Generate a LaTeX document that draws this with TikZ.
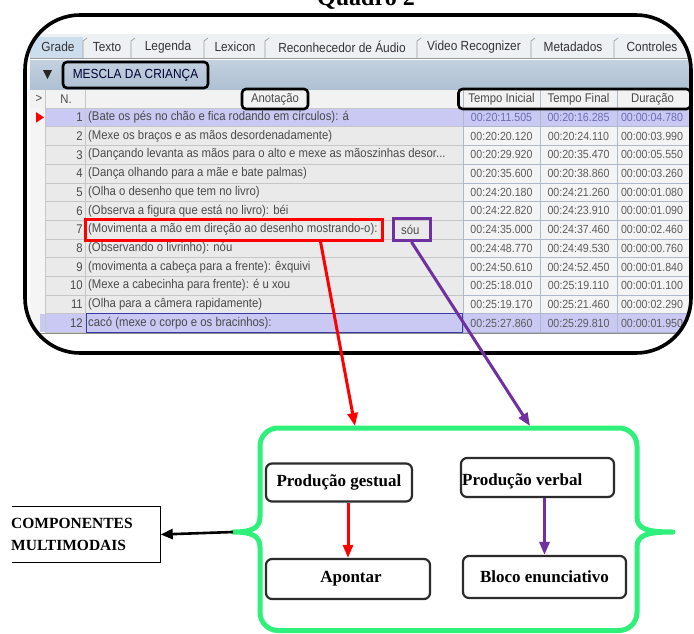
\documentclass[tikz,border=0pt]{standalone}
\usepackage{fontspec}
\setmainfont{Liberation Serif}
\newfontfamily\ui{Liberation Sans}
\newfontfamily\uin[FakeStretch=0.9]{Liberation Sans}
\usetikzlibrary{arrows.meta,calc}
\definecolor{txtgrey}{HTML}{4A4A4A}
\definecolor{timegrey}{HTML}{5C5C5C}
\definecolor{timeblue}{HTML}{6C6CB4}
\definecolor{rowbg}{HTML}{EAEAEA}
\definecolor{timebg}{HTML}{F4F4F4}
\definecolor{gridl}{HTML}{C6C6C6}
\definecolor{gridb}{HTML}{AEB9CE}
\definecolor{lav}{HTML}{C9C9F3}
\definecolor{tabbg}{HTML}{EEF1F4}
\definecolor{tabsel}{HTML}{CCDDEE}
\definecolor{tiertop}{HTML}{C3D1E0}
\definecolor{tierbot}{HTML}{AEC0D3}
\definecolor{brgreen}{HTML}{2EF07A}
\definecolor{pur}{HTML}{7030A0}
\definecolor{boxgrey}{HTML}{2B2B2B}
\definecolor{cellblue}{HTML}{3A3AA8}
\definecolor{sepgrey}{HTML}{9A9A9A}
\begin{document}
\begin{tikzpicture}[x=1pt,y=-1pt,
  uitxt/.style={font=\uin\fontsize{12.6}{14}\selectfont, text=txtgrey, inner sep=0pt},
  tabtxt/.style={font=\uin\fontsize{13.2}{14}\selectfont, text=black!80, inner sep=0pt},
  timetxt/.style={font=\uin\fontsize{11.8}{14}\selectfont, inner sep=0pt},
  hl/.style={draw=black, line width=2.6pt, rounded corners=4pt},
  gbox/.style={draw=boxgrey, line width=2.2pt, rounded corners=6pt, fill=white, inner sep=2pt, font=\bfseries\fontsize{17}{20}\selectfont},
  gline/.style={draw=brgreen, line width=5pt, line join=round},
  redarr/.style={draw=red, line width=3pt, -{Triangle[length=13pt,width=10pt]}},
  purarr/.style={draw=pur, line width=3pt, -{Triangle[length=13pt,width=10pt]}},
  blkarr/.style={draw=black, line width=2.6pt, -{Triangle[length=12pt,width=10pt]}},
  frame/.style={draw=black, line width=3.6pt, rounded corners=55pt}]
\useasboundingbox (0,0) rectangle (694,633);

% title (cropped at top, as in the original)
\node[font=\bfseries\fontsize{24}{26}\selectfont, anchor=base, inner sep=0pt] (title) at (366,5) {Quadro 2};

% ---------- table screenshot ----------
\begin{scope}
\clip[rounded corners=55pt] (25,15) rectangle (691,353);
% tab bar
\fill[tabbg] (30,34) rectangle (692,59);
\fill[tabsel] (30,37) rectangle (83,59);
\draw[sepgrey, line width=0.6pt] (30,58.5) -- (692,58.5);
\foreach \sx in {83,131,204,265,417,531,614,688}{
  \draw[sepgrey, line width=0.7pt] (\sx,58) -- (\sx,41) -- (\sx+4,38);
}
\node[tabtxt] (tGrade) at (58,47) {Grade};
\node[tabtxt] (tTexto) at (107,47) {Texto};
\node[tabtxt] (tLeg) at (168,47) {Legenda};
\node[tabtxt] (tLex) at (235,47) {Lexicon};
\node[tabtxt] (tRec) at (342,47) {Reconhecedor de Áudio};
\node[tabtxt] (tVid) at (474,47) {Video Recognizer};
\node[tabtxt] (tMet) at (573,47) {Metadados};
\node[tabtxt] (tCon) at (652,47) {Controles};
% tier bar
\shade[top color=tiertop, bottom color=tierbot] (30,60) rectangle (692,89);
\fill[black!85] (43,70) -- (52,70) -- (47.5,79) -- cycle;
% header row
\fill[black!5] (30,90) rectangle (692,108);
% rows background
\fill[black!4] (30,108) rectangle (45,332.4);
\fill[rowbg] (45,108) rectangle (463,332.4);
\fill[timebg] (463,108) rectangle (692,332.4);
\fill[lav] (45,108) rectangle (692,126.7);
\fill[lav] (40,313.7) rectangle (692,332.4);
\fill[red] (36,112) -- (44,117.35) -- (36,122.7) -- cycle;
% grid
\foreach \k in {0,...,12}{
  \pgfmathsetmacro\gy{108+\k*18.7}
  \draw[gridl, line width=0.6pt] (45,\gy) -- (463,\gy);
  \draw[gridb, line width=0.6pt] (463,\gy) -- (692,\gy);
}
\foreach \vx in {45,85}{\draw[gridl, line width=0.6pt] (\vx,90) -- (\vx,332.4);}
\foreach \vx in {463,540,617}{\draw[gridb, line width=0.6pt] (\vx,90) -- (\vx,332.4);}
\draw[black!45, line width=0.8pt] (40,333.5) -- (692,333.5);
\draw[cellblue, line width=1pt] (86,313.9) rectangle (462,332.2);
% header texts
\node[uitxt] (hgt) at (39,99) {>};
\node[uitxt] (hN) at (66,99) {N.};
\node[uitxt] (hTI) at (501.5,99) {Tempo Inicial};
\node[uitxt] (hTF) at (578.5,99) {Tempo Final};
\node[uitxt] (hDu) at (652.5,99) {Duração};
% rows
\foreach \i/\ann/\ta/\tb/\tc/\tcol in {
 1/{(Bate os pés no chão e fica rodando em círculos): á}/00:20:11.505/00:20:16.285/00:00:04.780/timeblue,
 2/{(Mexe os braços e as mãos desordenadamente)}/00:20:20.120/00:20:24.110/00:00:03.990/timegrey,
 3/{(Dançando levanta as mãos para o alto e mexe as mãoszinhas desor...}/00:20:29.920/00:20:35.470/00:00:05.550/timegrey,
 4/{(Dança olhando para a mãe e bate palmas)}/00:20:35.600/00:20:38.860/00:00:03.260/timegrey,
 5/{(Olha o desenho que tem no livro)}/00:24:20.180/00:24:21.260/00:00:01.080/timegrey,
 6/{(Observa a figura que está no livro): béi}/00:24:22.820/00:24:23.910/00:00:01.090/timegrey,
 7/{(Movimenta a mão em direção ao desenho mostrando-o):}/00:24:35.000/00:24:37.460/00:00:02.460/timegrey,
 8/{(Observando o livrinho): nóu}/00:24:48.770/00:24:49.530/00:00:00.760/timegrey,
 9/{(movimenta a cabeça para a frente): êxquivi}/00:24:50.610/00:24:52.450/00:00:01.840/timegrey,
 10/{(Mexe a cabecinha para frente): é u xou}/00:25:18.010/00:25:19.110/00:00:01.100/timegrey,
 11/{(Olha para a câmera rapidamente)}/00:25:19.170/00:25:21.460/00:00:02.290/timegrey,
 12/{cacó (mexe o corpo e os bracinhos):}/00:25:27.860/00:25:29.810/00:00:01.950/timegrey}
{
  \pgfmathsetmacro\yc{108+(\i-1)*18.7+9.35}
  \node[uitxt, anchor=east] (n\i) at (83,\yc) {\i};
  \node[uitxt, anchor=west] (a\i) at (88,\yc) {\ann};
  \node[timetxt, text=\tcol] (ti\i) at (501.5,\yc) {\ta};
  \node[timetxt, text=\tcol] (tf\i) at (578.5,\yc) {\tb};
  \node[timetxt, text=\tcol] (du\i) at (652,\yc) {\tc};
}
\node[uitxt, anchor=west] (sou) at (401,229.5) {sóu};
% black highlight boxes
\node[hl, font=\uin\fontsize{13.2}{14}\selectfont, text=black!80!blue, minimum width=145pt, minimum height=26pt, inner sep=0pt] (tier) at (135.5,75) {MESCLA DA CRIANÇA};
\node[hl, uitxt, minimum width=66pt, minimum height=20pt] (anot) at (275,99) {Anotação};
\node[hl, minimum width=232pt, minimum height=20pt, inner sep=0pt] (thead) at (574.5,99) {};
% red and purple boxes
\node[draw=red, line width=3pt, minimum width=297pt, minimum height=21pt, inner sep=0pt] (redbox) at (233.5,229.5) {};
\node[draw=pur, line width=3pt, minimum width=37pt, minimum height=22pt, inner sep=0pt] (purbox) at (411.5,229.5) {};
\end{scope}
% outer frame
\draw[frame] (25,15) rectangle (691,353);

% ---------- lower diagram ----------
\coordinate (gL) at (233,532);
\coordinate (gR) at (673,532);
\coordinate (gT1) at (355,426);
\coordinate (gT2) at (530,426);
\draw[gline, rounded corners=18pt] (260,517) -- (260,428) -- (637,428) -- (637,517);
\draw[gline, rounded corners=18pt] (260,547) -- (260,630.5) -- (637,630.5) -- (637,547);
\draw[gline] (260,517) .. controls (260,529) and (250,532) .. (gL) .. controls (250,532) and (260,535) .. (260,547);
\draw[gline] (637,517) .. controls (637,529) and (647,532) .. (gR) .. controls (647,532) and (637,535) .. (637,547);

\node[gbox, minimum width=146pt, minimum height=38pt] (gest) at (339,482.5) {Produção gestual};
\node[gbox, minimum width=153pt, minimum height=39pt] (verb) at (537.5,477.5) {};
\node[font=\bfseries\fontsize{17}{20}\selectfont, anchor=west, inner sep=0pt] (verbt) at (462,481) {Produção verbal};
\node[gbox, minimum width=164pt, minimum height=40pt] (apon) at (348,579) {\hspace*{6pt}Apontar};
\node[gbox, minimum width=163pt, minimum height=42pt] (bloc) at (544.5,577) {Bloco enunciativo};

\draw[redarr] (gest.south -| apon.north) -- (apon.north);
\draw[purarr] (verb.south -| bloc.north) -- (bloc.north);

% components box
\node[minimum width=148pt, minimum height=55pt, inner sep=0pt] (comp) at (86.5,534.5) {};
\draw[black, line width=1.3pt] (comp.north west) -- (comp.north east) -- (comp.south east) -- (comp.south west);
\node[font=\bfseries\fontsize{15.5}{22}\selectfont, anchor=west, align=left, inner sep=0pt] (compt) at (11,534) {COMPONENTES\\MULTIMODAIS};
\draw[blkarr] (gL) -- (comp.east);

% arrows from table to green box
\draw[redarr] ($(redbox.south)+(87,0)$) -- (gT1);
\draw[purarr] (purbox.south) -- (gT2);
\end{tikzpicture}
\end{document}
